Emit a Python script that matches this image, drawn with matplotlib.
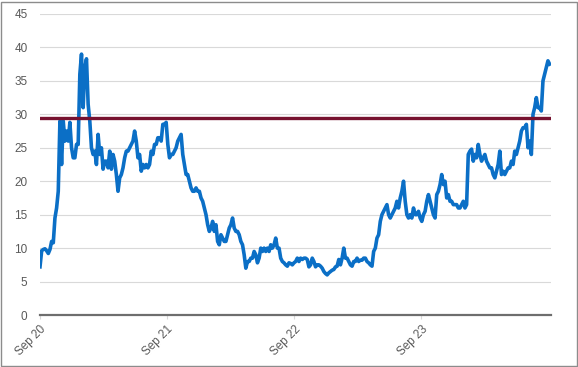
import pandas as pd
import matplotlib
matplotlib.use('Agg')
import matplotlib.pyplot as plt
from matplotlib.patches import Rectangle

# values, roughly every 5 days from Sep 2020 to Sep 2024
values_2020_22 = [
    7.2, 9.6, 9.8, 9.9, 9.6, 9.2, 9.8, 11.0, 10.8, 14.5, 16.0, 18.5, 29.0, 22.5, 29.0, 26.0,
    27.5, 26.0, 28.8, 25.0, 23.5, 23.5, 25.5, 25.5, 36.0, 39.0, 31.0, 37.0, 38.3, 31.5, 29.0,
    25.0, 24.0, 24.5, 22.5, 27.0, 24.0, 25.0, 21.8, 23.0, 23.0,
    22.0, 24.5, 21.8, 24.0, 23.0, 21.0, 18.5, 20.5, 21.0, 22.0,
    23.5, 24.5, 24.5, 25.0, 25.5, 26.0, 27.5, 26.0, 23.5, 24.0,
    21.5, 22.5, 22.0, 22.5, 22.0, 22.5, 24.5, 24.0, 25.5, 25.5,
    26.5, 26.5, 26.0, 28.5, 28.5, 28.8, 25.5, 23.5, 24.0, 24.0,
    24.5, 25.0, 26.0, 26.5, 27.0, 24.0, 22.5, 21.0, 21.0, 20.0,
    19.0, 18.5, 18.5, 19.0, 18.5, 18.5, 17.5, 17.0, 16.0, 15.0,
    13.5, 12.5, 13.0, 14.0, 12.5, 13.5, 11.0, 10.5, 12.0, 11.5,
    11.0, 11.0, 12.0, 13.0, 13.5, 14.5, 13.0, 12.5, 12.5, 12.0,
    11.0, 10.5, 9.0, 7.0, 8.0, 8.0, 8.5, 8.5, 9.5, 9.0,
    7.8, 8.5, 10.0, 9.5, 10.0, 9.5, 10.0, 9.5, 10.5, 10.0,
    10.5, 11.5, 10.0, 10.0, 8.5, 8.0, 7.8, 7.5, 7.3, 7.8,
]
values_2022_24 = [
    7.7, 7.5, 7.8, 8.0, 8.5, 8.0, 8.5, 8.3, 8.5, 8.5,
    8.3, 7.2, 7.5, 8.5, 8.0, 7.2, 7.5, 7.5, 7.3, 7.0,
    6.5, 6.2, 6.0, 6.3, 6.5, 6.7, 6.8, 7.2, 7.3, 8.3,
    7.5, 8.5, 10.0, 8.5, 8.5, 8.0, 7.5, 7.3, 8.0, 8.0,
    8.5, 8.0, 8.2, 8.2, 8.5, 8.5, 8.0, 7.8, 7.5, 7.3,
    9.5, 10.0, 11.5, 12.0, 14.0, 15.0, 15.5, 16.0, 16.5, 15.0,
    14.5, 15.0, 15.5, 16.0, 17.0, 16.0, 17.5, 18.5, 20.0, 17.0,
    15.0, 14.5, 15.0, 14.5, 16.0, 15.0, 15.0, 15.5, 14.5, 14.0,
    15.0, 15.5, 17.0, 18.0, 17.0, 16.0, 15.0, 14.5, 18.0, 18.5,
    19.5, 21.0, 19.5, 20.0, 17.5, 18.0, 17.0, 17.0, 16.5, 16.5,
    16.5, 16.0, 16.0, 16.5, 17.0, 16.0, 16.5,
    24.0, 24.5, 24.8, 23.0, 24.0, 23.5, 25.5, 24.0, 23.0, 23.5,
    24.0, 23.0, 22.5, 22.0, 22.0, 21.0, 20.5, 21.5, 22.5, 24.5,
    21.0, 21.5, 21.0, 21.5, 22.0, 22.0, 23.0, 22.5, 24.5, 24.0,
    25.0, 26.0, 27.5, 28.0, 28.0, 28.5, 25.0, 26.0, 24.0, 30.0,
    31.0, 32.5, 31.0, 31.0, 30.5, 35.0, 36.0, 37.0, 38.0, 37.5,
]
threshold = 29.4
tick_dates = ['2020-09-01', '2021-09-01', '2022-09-01', '2023-09-01']
tick_labels = ['Sep 20', 'Sep 21', 'Sep 22', 'Sep 23']

values = values_2020_22 + values_2022_24
dates = pd.date_range('2020-09-01', '2024-09-03', periods=len(values))

plt.rcParams['font.family'] = ['Liberation Sans', 'DejaVu Sans']

fig = plt.figure(figsize=(5.78, 3.67), dpi=100)
ax = fig.add_axes([40 / 578, 1 - 315 / 367, 511 / 578, 301 / 367])

ax.plot(dates, values, color='#0B6FC6', lw=2.6, solid_joinstyle='round', zorder=3)
ax.axhline(threshold, color='#76112F', lw=2.4, zorder=4)

ax.set_ylim(0, 45)
ax.set_yticks(range(0, 46, 5))
ax.set_xlim(pd.Timestamp('2020-09-01'), pd.Timestamp('2024-09-07'))
ax.set_xticks(pd.to_datetime(tick_dates))
ax.set_xticklabels(tick_labels, rotation=45, ha='right', rotation_mode='anchor')

ax.grid(axis='y', color='#D9D9D9', lw=0.8)
ax.set_axisbelow(True)
for s in ['top', 'right', 'left']:
    ax.spines[s].set_visible(False)
ax.spines['bottom'].set_color('#6E6E6E')
ax.spines['bottom'].set_linewidth(1.6)
ax.spines['bottom'].set_zorder(5)
ax.tick_params(axis='y', length=0, pad=9, labelsize=8.5, labelcolor='#595959')
ax.tick_params(axis='x', length=3, color='#D9D9D9', pad=3, labelsize=8.5, labelcolor='#595959')

fig.patches.append(Rectangle((1 / 578, 1 / 367), 575.5 / 578, 364.5 / 367, transform=fig.transFigure,
                             fill=False, edgecolor='#8C8C8C', lw=1))

fig.savefig('out.png', dpi=100)
